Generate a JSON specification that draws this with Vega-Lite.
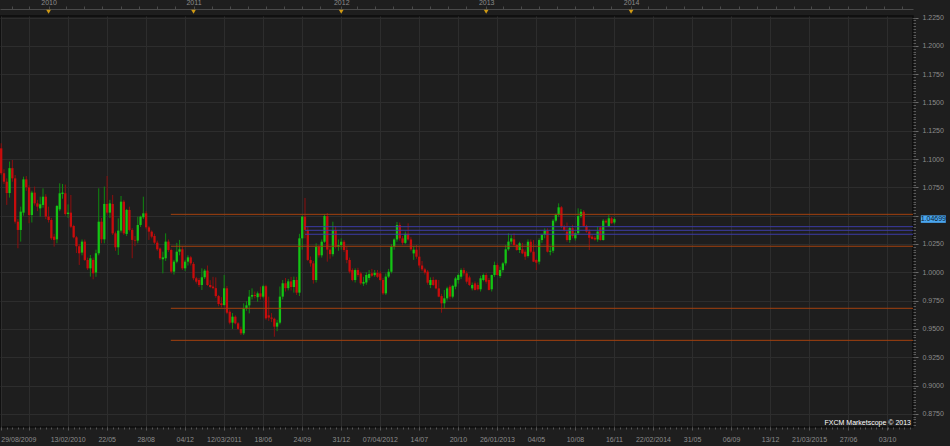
{
"$schema":"https://vega.github.io/schema/vega-lite/v6.json",
"width":913,"height":411,
"autosize":{"type":"none"},
"padding":{"left":0,"top":16,"right":37,"bottom":19},
"background":"#1e1e1e",
"config":{"view":{"stroke":"#0d0d0d","strokeWidth":1.5},"font":"Liberation Sans","axis":{"labelFont":"Liberation Sans","labelFontSize":7,"labelColor":"#8c8c8c"}},
"datasets":{
"ohlc":[
{"d":"2009-08-30","o":1.1095,"h":1.1140,"l":1.0860,"c":1.0875},
{"d":"2009-09-06","o":1.0875,"h":1.0910,"l":1.0780,"c":1.0800},
{"d":"2009-09-13","o":1.0800,"h":1.0830,"l":1.0595,"c":1.0700},
{"d":"2009-09-20","o":1.0700,"h":1.0978,"l":1.0660,"c":1.0920},
{"d":"2009-09-27","o":1.0920,"h":1.0992,"l":1.0800,"c":1.0830},
{"d":"2009-10-04","o":1.0830,"h":1.0860,"l":1.0430,"c":1.0447},
{"d":"2009-10-11","o":1.0447,"h":1.0470,"l":1.0212,"c":1.0374},
{"d":"2009-10-18","o":1.0374,"h":1.0580,"l":1.0271,"c":1.0536},
{"d":"2009-10-25","o":1.0527,"h":1.0845,"l":1.0500,"c":1.0821},
{"d":"2009-11-01","o":1.0821,"h":1.0850,"l":1.0720,"c":1.0751},
{"d":"2009-11-08","o":1.0751,"h":1.0770,"l":1.0433,"c":1.0506},
{"d":"2009-11-15","o":1.0506,"h":1.0720,"l":1.0440,"c":1.0704},
{"d":"2009-11-22","o":1.0704,"h":1.0757,"l":1.0590,"c":1.0609},
{"d":"2009-11-29","o":1.0609,"h":1.0640,"l":1.0540,"c":1.0580},
{"d":"2009-12-06","o":1.0565,"h":1.0668,"l":1.0492,"c":1.0601},
{"d":"2009-12-13","o":1.0595,"h":1.0742,"l":1.0570,"c":1.0668},
{"d":"2009-12-20","o":1.0668,"h":1.0690,"l":1.0470,"c":1.0492},
{"d":"2009-12-27","o":1.0492,"h":1.0580,"l":1.0440,"c":1.0462},
{"d":"2010-01-03","o":1.0462,"h":1.0480,"l":1.0285,"c":1.0300},
{"d":"2010-01-10","o":1.0315,"h":1.0340,"l":1.0227,"c":1.0286},
{"d":"2010-01-17","o":1.0291,"h":1.0595,"l":1.0256,"c":1.0586},
{"d":"2010-01-24","o":1.0556,"h":1.0786,"l":1.0540,"c":1.0698},
{"d":"2010-01-31","o":1.0692,"h":1.0780,"l":1.0650,"c":1.0704},
{"d":"2010-02-07","o":1.0698,"h":1.0775,"l":1.0500,"c":1.0515},
{"d":"2010-02-14","o":1.0515,"h":1.0600,"l":1.0480,"c":1.0527},
{"d":"2010-02-21","o":1.0527,"h":1.0683,"l":1.0390,"c":1.0403},
{"d":"2010-02-28","o":1.0409,"h":1.0420,"l":1.0300,"c":1.0309},
{"d":"2010-03-07","o":1.0309,"h":1.0320,"l":1.0170,"c":1.0230},
{"d":"2010-03-14","o":1.0230,"h":1.0250,"l":1.0065,"c":1.0168},
{"d":"2010-03-21","o":1.0174,"h":1.0290,"l":1.0150,"c":1.0271},
{"d":"2010-03-28","o":1.0271,"h":1.0290,"l":1.0100,"c":1.0109},
{"d":"2010-04-04","o":1.0109,"h":1.0130,"l":1.0020,"c":1.0035},
{"d":"2010-04-11","o":1.0035,"h":1.0153,"l":0.9962,"c":1.0124},
{"d":"2010-04-18","o":1.0110,"h":1.0130,"l":0.9938,"c":0.9991},
{"d":"2010-04-25","o":0.9998,"h":1.0200,"l":0.9960,"c":1.0168},
{"d":"2010-05-02","o":1.0168,"h":1.0742,"l":1.0150,"c":1.0447},
{"d":"2010-05-09","o":1.0447,"h":1.0480,"l":1.0256,"c":1.0291},
{"d":"2010-05-16","o":1.0291,"h":1.0757,"l":1.0256,"c":1.0604},
{"d":"2010-05-23","o":1.0604,"h":1.0851,"l":1.0510,"c":1.0527},
{"d":"2010-05-30","o":1.0527,"h":1.0640,"l":1.0480,"c":1.0609},
{"d":"2010-06-06","o":1.0604,"h":1.0683,"l":1.0330,"c":1.0344},
{"d":"2010-06-13","o":1.0344,"h":1.0360,"l":1.0190,"c":1.0221},
{"d":"2010-06-20","o":1.0221,"h":1.0477,"l":1.0153,"c":1.0368},
{"d":"2010-06-27","o":1.0368,"h":1.0674,"l":1.0350,"c":1.0624},
{"d":"2010-07-04","o":1.0624,"h":1.0640,"l":1.0330,"c":1.0344},
{"d":"2010-07-11","o":1.0339,"h":1.0560,"l":1.0320,"c":1.0551},
{"d":"2010-07-18","o":1.0551,"h":1.0580,"l":1.0360,"c":1.0374},
{"d":"2010-07-25","o":1.0374,"h":1.0390,"l":1.0124,"c":1.0286},
{"d":"2010-08-01","o":1.0286,"h":1.0320,"l":1.0230,"c":1.0280},
{"d":"2010-08-08","o":1.0280,"h":1.0492,"l":1.0256,"c":1.0418},
{"d":"2010-08-15","o":1.0418,"h":1.0500,"l":1.0400,"c":1.0492},
{"d":"2010-08-22","o":1.0486,"h":1.0668,"l":1.0470,"c":1.0521},
{"d":"2010-08-29","o":1.0521,"h":1.0540,"l":1.0380,"c":1.0397},
{"d":"2010-09-05","o":1.0397,"h":1.0410,"l":1.0286,"c":1.0359},
{"d":"2010-09-12","o":1.0359,"h":1.0370,"l":1.0300,"c":1.0315},
{"d":"2010-09-19","o":1.0321,"h":1.0340,"l":1.0250,"c":1.0262},
{"d":"2010-09-26","o":1.0262,"h":1.0280,"l":1.0190,"c":1.0203},
{"d":"2010-10-03","o":1.0210,"h":1.0220,"l":1.0110,"c":1.0124},
{"d":"2010-10-10","o":1.0115,"h":1.0182,"l":0.9991,"c":1.0132},
{"d":"2010-10-17","o":1.0124,"h":1.0344,"l":1.0100,"c":1.0271},
{"d":"2010-10-24","o":1.0271,"h":1.0290,"l":1.0180,"c":1.0197},
{"d":"2010-10-31","o":1.0197,"h":1.0210,"l":0.9990,"c":1.0006},
{"d":"2010-11-07","o":1.0006,"h":1.0110,"l":0.9980,"c":1.0094},
{"d":"2010-11-14","o":1.0094,"h":1.0260,"l":1.0080,"c":1.0182},
{"d":"2010-11-21","o":1.0182,"h":1.0286,"l":1.0150,"c":1.0203},
{"d":"2010-11-28","o":1.0203,"h":1.0230,"l":1.0020,"c":1.0035},
{"d":"2010-12-05","o":1.0035,"h":1.0110,"l":1.0010,"c":1.0094},
{"d":"2010-12-12","o":1.0094,"h":1.0150,"l":1.0060,"c":1.0132},
{"d":"2010-12-19","o":1.0132,"h":1.0145,"l":1.0060,"c":1.0079},
{"d":"2010-12-26","o":1.0074,"h":1.0090,"l":0.9930,"c":0.9947},
{"d":"2011-01-02","o":0.9947,"h":0.9960,"l":0.9900,"c":0.9917},
{"d":"2011-01-09","o":0.9932,"h":0.9950,"l":0.9870,"c":0.9888},
{"d":"2011-01-16","o":0.9888,"h":1.0035,"l":0.9844,"c":0.9956},
{"d":"2011-01-23","o":0.9956,"h":1.0030,"l":0.9940,"c":1.0015},
{"d":"2011-01-30","o":1.0015,"h":1.0060,"l":0.9880,"c":0.9888},
{"d":"2011-02-06","o":0.9888,"h":0.9930,"l":0.9860,"c":0.9870},
{"d":"2011-02-13","o":0.9874,"h":0.9960,"l":0.9850,"c":0.9860},
{"d":"2011-02-20","o":0.9860,"h":0.9955,"l":0.9775,"c":0.9790},
{"d":"2011-02-27","o":0.9790,"h":0.9800,"l":0.9700,"c":0.9720},
{"d":"2011-03-06","o":0.9726,"h":0.9780,"l":0.9690,"c":0.9711},
{"d":"2011-03-13","o":0.9711,"h":0.9976,"l":0.9700,"c":0.9859},
{"d":"2011-03-20","o":0.9859,"h":0.9880,"l":0.9630,"c":0.9643},
{"d":"2011-03-27","o":0.9652,"h":0.9670,"l":0.9540,"c":0.9555},
{"d":"2011-04-03","o":0.9555,"h":0.9640,"l":0.9500,"c":0.9608},
{"d":"2011-04-10","o":0.9608,"h":0.9620,"l":0.9540,"c":0.9549},
{"d":"2011-04-17","o":0.9549,"h":0.9560,"l":0.9490,"c":0.9500},
{"d":"2011-04-24","o":0.9500,"h":0.9520,"l":0.9446,"c":0.9461},
{"d":"2011-05-01","o":0.9461,"h":0.9726,"l":0.9446,"c":0.9682},
{"d":"2011-05-08","o":0.9682,"h":0.9745,"l":0.9660,"c":0.9708},
{"d":"2011-05-15","o":0.9708,"h":0.9844,"l":0.9637,"c":0.9785},
{"d":"2011-05-22","o":0.9785,"h":0.9858,"l":0.9760,"c":0.9800},
{"d":"2011-05-29","o":0.9800,"h":0.9830,"l":0.9770,"c":0.9790},
{"d":"2011-06-05","o":0.9780,"h":0.9830,"l":0.9740,"c":0.9814},
{"d":"2011-06-12","o":0.9814,"h":0.9874,"l":0.9760,"c":0.9785},
{"d":"2011-06-19","o":0.9785,"h":0.9890,"l":0.9770,"c":0.9877},
{"d":"2011-06-26","o":0.9877,"h":0.9890,"l":0.9580,"c":0.9593},
{"d":"2011-07-03","o":0.9620,"h":0.9785,"l":0.9570,"c":0.9600},
{"d":"2011-07-10","o":0.9600,"h":0.9640,"l":0.9560,"c":0.9590},
{"d":"2011-07-17","o":0.9590,"h":0.9600,"l":0.9431,"c":0.9520},
{"d":"2011-07-24","o":0.9520,"h":0.9580,"l":0.9480,"c":0.9555},
{"d":"2011-07-31","o":0.9555,"h":0.9874,"l":0.9540,"c":0.9785},
{"d":"2011-08-07","o":0.9785,"h":0.9932,"l":0.9760,"c":0.9903},
{"d":"2011-08-14","o":0.9903,"h":0.9950,"l":0.9830,"c":0.9860},
{"d":"2011-08-21","o":0.9860,"h":0.9940,"l":0.9840,"c":0.9920},
{"d":"2011-08-28","o":0.9920,"h":0.9960,"l":0.9840,"c":0.9870},
{"d":"2011-09-04","o":0.9870,"h":0.9962,"l":0.9820,"c":0.9932},
{"d":"2011-09-11","o":0.9932,"h":0.9960,"l":0.9800,"c":0.9820},
{"d":"2011-09-18","o":0.9820,"h":1.0340,"l":0.9790,"c":1.0300},
{"d":"2011-09-25","o":1.0300,"h":1.0500,"l":1.0200,"c":1.0492},
{"d":"2011-10-02","o":1.0492,"h":1.0657,"l":1.0300,"c":1.0374},
{"d":"2011-10-09","o":1.0374,"h":1.0400,"l":1.0100,"c":1.0109},
{"d":"2011-10-16","o":1.0109,"h":1.0140,"l":1.0050,"c":1.0079},
{"d":"2011-10-23","o":1.0079,"h":1.0100,"l":0.9900,"c":0.9932},
{"d":"2011-10-30","o":0.9932,"h":1.0256,"l":0.9910,"c":1.0226},
{"d":"2011-11-06","o":1.0226,"h":1.0240,"l":1.0130,"c":1.0150},
{"d":"2011-11-13","o":1.0150,"h":1.0290,"l":1.0130,"c":1.0270},
{"d":"2011-11-20","o":1.0270,"h":1.0510,"l":1.0260,"c":1.0497},
{"d":"2011-11-27","o":1.0497,"h":1.0524,"l":1.0094,"c":1.0200},
{"d":"2011-12-04","o":1.0200,"h":1.0230,"l":1.0120,"c":1.0160},
{"d":"2011-12-11","o":1.0160,"h":1.0447,"l":1.0140,"c":1.0374},
{"d":"2011-12-18","o":1.0374,"h":1.0410,"l":1.0210,"c":1.0226},
{"d":"2011-12-25","o":1.0226,"h":1.0290,"l":1.0190,"c":1.0240},
{"d":"2012-01-01","o":1.0240,"h":1.0300,"l":1.0200,"c":1.0270},
{"d":"2012-01-08","o":1.0270,"h":1.0285,"l":1.0180,"c":1.0197},
{"d":"2012-01-15","o":1.0197,"h":1.0226,"l":1.0080,"c":1.0109},
{"d":"2012-01-22","o":1.0109,"h":1.0130,"l":0.9990,"c":1.0006},
{"d":"2012-01-29","o":1.0020,"h":1.0035,"l":0.9920,"c":0.9932},
{"d":"2012-02-05","o":0.9932,"h":1.0035,"l":0.9910,"c":1.0020},
{"d":"2012-02-12","o":1.0020,"h":1.0040,"l":0.9960,"c":0.9976},
{"d":"2012-02-19","o":0.9990,"h":1.0005,"l":0.9890,"c":0.9903},
{"d":"2012-02-26","o":0.9900,"h":0.9960,"l":0.9880,"c":0.9915},
{"d":"2012-03-04","o":0.9910,"h":1.0000,"l":0.9890,"c":0.9976},
{"d":"2012-03-11","o":0.9950,"h":1.0020,"l":0.9930,"c":0.9985},
{"d":"2012-03-18","o":0.9991,"h":1.0030,"l":0.9960,"c":0.9970},
{"d":"2012-03-25","o":0.9975,"h":1.0020,"l":0.9960,"c":0.9995},
{"d":"2012-04-01","o":0.9995,"h":1.0020,"l":0.9950,"c":0.9960},
{"d":"2012-04-08","o":0.9990,"h":1.0010,"l":0.9920,"c":0.9932},
{"d":"2012-04-15","o":0.9932,"h":0.9950,"l":0.9800,"c":0.9814},
{"d":"2012-04-22","o":0.9814,"h":0.9990,"l":0.9800,"c":0.9962},
{"d":"2012-04-29","o":0.9962,"h":1.0030,"l":0.9950,"c":1.0005},
{"d":"2012-05-06","o":1.0005,"h":1.0250,"l":0.9990,"c":1.0226},
{"d":"2012-05-13","o":1.0226,"h":1.0300,"l":1.0200,"c":1.0290},
{"d":"2012-05-20","o":1.0290,"h":1.0445,"l":1.0270,"c":1.0418},
{"d":"2012-05-27","o":1.0418,"h":1.0440,"l":1.0280,"c":1.0300},
{"d":"2012-06-03","o":1.0300,"h":1.0320,"l":1.0240,"c":1.0260},
{"d":"2012-06-10","o":1.0260,"h":1.0360,"l":1.0250,"c":1.0340},
{"d":"2012-06-17","o":1.0340,"h":1.0433,"l":1.0280,"c":1.0290},
{"d":"2012-06-24","o":1.0290,"h":1.0310,"l":1.0190,"c":1.0203},
{"d":"2012-07-01","o":1.0167,"h":1.0230,"l":1.0110,"c":1.0200},
{"d":"2012-07-08","o":1.0200,"h":1.0240,"l":1.0120,"c":1.0138},
{"d":"2012-07-15","o":1.0138,"h":1.0226,"l":1.0040,"c":1.0060},
{"d":"2012-07-22","o":1.0060,"h":1.0100,"l":1.0010,"c":1.0026},
{"d":"2012-07-29","o":1.0026,"h":1.0040,"l":0.9980,"c":0.9997},
{"d":"2012-08-05","o":1.0006,"h":1.0020,"l":0.9890,"c":0.9908},
{"d":"2012-08-12","o":0.9888,"h":0.9955,"l":0.9860,"c":0.9932},
{"d":"2012-08-19","o":0.9932,"h":0.9960,"l":0.9880,"c":0.9888},
{"d":"2012-08-26","o":0.9932,"h":0.9940,"l":0.9850,"c":0.9858},
{"d":"2012-09-02","o":0.9858,"h":0.9932,"l":0.9780,"c":0.9785},
{"d":"2012-09-09","o":0.9790,"h":0.9810,"l":0.9643,"c":0.9726},
{"d":"2012-09-16","o":0.9726,"h":0.9844,"l":0.9680,"c":0.9770},
{"d":"2012-09-23","o":0.9770,"h":0.9873,"l":0.9750,"c":0.9858},
{"d":"2012-09-30","o":0.9873,"h":0.9890,"l":0.9760,"c":0.9785},
{"d":"2012-10-07","o":0.9785,"h":0.9890,"l":0.9770,"c":0.9880},
{"d":"2012-10-14","o":0.9873,"h":0.9960,"l":0.9850,"c":0.9946},
{"d":"2012-10-21","o":0.9932,"h":0.9990,"l":0.9900,"c":0.9976},
{"d":"2012-10-28","o":0.9961,"h":1.0035,"l":0.9940,"c":1.0020},
{"d":"2012-11-04","o":1.0020,"h":1.0040,"l":0.9970,"c":0.9991},
{"d":"2012-11-11","o":0.9991,"h":1.0010,"l":0.9900,"c":0.9917},
{"d":"2012-11-18","o":0.9955,"h":0.9970,"l":0.9880,"c":0.9888},
{"d":"2012-11-25","o":0.9858,"h":0.9910,"l":0.9840,"c":0.9888},
{"d":"2012-12-02","o":0.9902,"h":0.9920,"l":0.9840,"c":0.9844},
{"d":"2012-12-09","o":0.9888,"h":0.9910,"l":0.9840,"c":0.9850},
{"d":"2012-12-16","o":0.9850,"h":0.9970,"l":0.9830,"c":0.9947},
{"d":"2012-12-23","o":0.9932,"h":0.9990,"l":0.9920,"c":0.9976},
{"d":"2012-12-30","o":0.9976,"h":0.9995,"l":0.9900,"c":0.9917},
{"d":"2013-01-06","o":0.9932,"h":0.9950,"l":0.9840,"c":0.9844},
{"d":"2013-01-13","o":0.9850,"h":0.9980,"l":0.9830,"c":0.9976},
{"d":"2013-01-20","o":0.9976,"h":1.0094,"l":0.9960,"c":1.0064},
{"d":"2013-01-27","o":1.0064,"h":1.0080,"l":0.9970,"c":0.9976},
{"d":"2013-02-03","o":0.9967,"h":1.0050,"l":0.9950,"c":1.0020},
{"d":"2013-02-10","o":1.0020,"h":1.0090,"l":1.0000,"c":1.0079},
{"d":"2013-02-17","o":1.0079,"h":1.0240,"l":1.0060,"c":1.0203},
{"d":"2013-02-24","o":1.0203,"h":1.0344,"l":1.0190,"c":1.0271},
{"d":"2013-03-03","o":1.0271,"h":1.0330,"l":1.0250,"c":1.0300},
{"d":"2013-03-10","o":1.0291,"h":1.0344,"l":1.0230,"c":1.0241},
{"d":"2013-03-17","o":1.0241,"h":1.0250,"l":1.0190,"c":1.0197},
{"d":"2013-03-24","o":1.0197,"h":1.0270,"l":1.0170,"c":1.0256},
{"d":"2013-03-31","o":1.0203,"h":1.0260,"l":1.0160,"c":1.0167},
{"d":"2013-04-07","o":1.0182,"h":1.0200,"l":1.0110,"c":1.0138},
{"d":"2013-04-14","o":1.0144,"h":1.0291,"l":1.0130,"c":1.0270},
{"d":"2013-04-21","o":1.0270,"h":1.0290,"l":1.0170,"c":1.0182},
{"d":"2013-04-28","o":1.0182,"h":1.0285,"l":1.0090,"c":1.0094},
{"d":"2013-05-05","o":1.0109,"h":1.0120,"l":1.0020,"c":1.0085},
{"d":"2013-05-12","o":1.0094,"h":1.0300,"l":1.0070,"c":1.0285},
{"d":"2013-05-19","o":1.0285,"h":1.0340,"l":1.0260,"c":1.0330},
{"d":"2013-05-26","o":1.0330,"h":1.0388,"l":1.0300,"c":1.0368},
{"d":"2013-06-02","o":1.0368,"h":1.0388,"l":1.0175,"c":1.0182},
{"d":"2013-06-09","o":1.0182,"h":1.0230,"l":1.0150,"c":1.0190},
{"d":"2013-06-16","o":1.0190,"h":1.0470,"l":1.0170,"c":1.0456},
{"d":"2013-06-23","o":1.0456,"h":1.0520,"l":1.0440,"c":1.0506},
{"d":"2013-06-30","o":1.0506,"h":1.0609,"l":1.0490,"c":1.0574},
{"d":"2013-07-07","o":1.0574,"h":1.0585,"l":1.0390,"c":1.0403},
{"d":"2013-07-14","o":1.0403,"h":1.0420,"l":1.0360,"c":1.0374},
{"d":"2013-07-21","o":1.0360,"h":1.0440,"l":1.0270,"c":1.0285},
{"d":"2013-07-28","o":1.0285,"h":1.0400,"l":1.0260,"c":1.0390},
{"d":"2013-08-04","o":1.0390,"h":1.0420,"l":1.0300,"c":1.0320},
{"d":"2013-08-11","o":1.0300,"h":1.0360,"l":1.0280,"c":1.0345},
{"d":"2013-08-18","o":1.0345,"h":1.0565,"l":1.0330,"c":1.0497},
{"d":"2013-08-25","o":1.0497,"h":1.0560,"l":1.0480,"c":1.0535},
{"d":"2013-09-01","o":1.0535,"h":1.0550,"l":1.0400,"c":1.0410},
{"d":"2013-09-08","o":1.0410,"h":1.0420,"l":1.0350,"c":1.0360},
{"d":"2013-09-15","o":1.0360,"h":1.0380,"l":1.0197,"c":1.0305},
{"d":"2013-09-22","o":1.0315,"h":1.0330,"l":1.0290,"c":1.0295},
{"d":"2013-09-29","o":1.0305,"h":1.0320,"l":1.0280,"c":1.0290},
{"d":"2013-10-06","o":1.0290,"h":1.0403,"l":1.0270,"c":1.0360},
{"d":"2013-10-13","o":1.0397,"h":1.0410,"l":1.0280,"c":1.0285},
{"d":"2013-10-20","o":1.0285,"h":1.0470,"l":1.0280,"c":1.0456},
{"d":"2013-10-27","o":1.0456,"h":1.0470,"l":1.0430,"c":1.0440},
{"d":"2013-11-03","o":1.0409,"h":1.0505,"l":1.0400,"c":1.0477},
{"d":"2013-11-10","o":1.0477,"h":1.0490,"l":1.0430,"c":1.0433},
{"d":"2013-11-17","o":1.0440,"h":1.0485,"l":1.0425,"c":1.04699}
],
"levels":[
{"v":1.0512,"s":"2010-10-30","e":"2015-12-07","k":"r"},
{"v":1.0230,"s":"2010-10-30","e":"2015-12-07","k":"r"},
{"v":0.9682,"s":"2010-10-30","e":"2015-12-07","k":"r"},
{"v":0.9399,"s":"2010-10-30","e":"2015-12-07","k":"r"},
{"v":1.0403,"s":"2011-10-02","e":"2015-12-07","k":"b"},
{"v":1.0371,"s":"2011-10-02","e":"2015-12-07","k":"b"},
{"v":1.0336,"s":"2011-10-02","e":"2015-12-07","k":"b"}
],
"years":[{"d":"2009-12-27"},{"d":"2010-12-26"},{"d":"2012-01-01"},{"d":"2012-12-30"},{"d":"2013-12-29"}],
"price":[{"p":1.04699,"t":"1.04699"}],
"brand":[{"t":"FXCM Marketscope © 2013"}]
},
"layer":[
{"data":{"name":"ohlc"},"mark":{"type":"rule","strokeWidth":1},
"encoding":{
"x":{"field":"d","type":"temporal","title":null,
"scale":{"type":"utc","domain":[{"year":2009,"month":8,"date":27,"utc":true},{"year":2015,"month":12,"date":7,"utc":true}]},
"axis":{"orient":"bottom","values":[
{"year":2009,"month":8,"date":29,"utc":true},{"year":2009,"month":11,"date":7,"utc":true},
{"year":2010,"month":2,"date":13,"utc":true},{"year":2010,"month":5,"date":22,"utc":true},{"year":2010,"month":8,"date":28,"utc":true},{"year":2010,"month":12,"date":4,"utc":true},
{"year":2011,"month":3,"date":12,"utc":true},{"year":2011,"month":6,"date":18,"utc":true},{"year":2011,"month":9,"date":24,"utc":true},{"year":2011,"month":12,"date":31,"utc":true},
{"year":2012,"month":4,"date":7,"utc":true},{"year":2012,"month":7,"date":14,"utc":true},{"year":2012,"month":10,"date":20,"utc":true},
{"year":2013,"month":1,"date":26,"utc":true},{"year":2013,"month":5,"date":4,"utc":true},{"year":2013,"month":8,"date":10,"utc":true},{"year":2013,"month":11,"date":16,"utc":true},
{"year":2014,"month":2,"date":22,"utc":true},{"year":2014,"month":5,"date":31,"utc":true},{"year":2014,"month":9,"date":6,"utc":true},{"year":2014,"month":12,"date":13,"utc":true},
{"year":2015,"month":3,"date":21,"utc":true},{"year":2015,"month":6,"date":27,"utc":true},{"year":2015,"month":10,"date":3,"utc":true}],
"labelExpr":"(time(datum.value) > utc(2009,9,1) && time(datum.value) < utc(2009,11,1)) ? '' : ((time(datum.value) < utc(2009,9,1) || time(datum.value) - utc(utcyear(datum.value),0,1) < 8467200000) ? utcFormat(datum.value, '%d/%m/%Y') : utcFormat(datum.value, '%d/%m'))",
"labelFlush":3,"labelOverlap":false,"labelPadding":5,"grid":true,"gridColor":"#2d2d2d","gridWidth":1,"domain":false,"ticks":true,"tickSize":3,"tickColor":"#5c5c5c","labelColor":"#8c8c8c","labelFontSize":7}},
"y":{"field":"l","type":"quantitative","title":null,
"scale":{"domain":[0.86334,1.22641],"zero":false,"nice":false},
"axis":{"orient":"right","values":[0.875,0.9,0.925,0.95,0.975,1,1.025,1.05,1.075,1.1,1.125,1.15,1.175,1.2,1.225],"labelExpr":"abs(datum.value - 1.05) < 0.001 ? '' : format(datum.value, '.4f')","grid":true,"gridColor":"#2d2d2d","domain":false,"tickSize":5,"tickColor":"#6a6a6a","labelPadding":4,"labelColor":"#8c8c8c","labelFontSize":7}},
"y2":{"field":"h"},
"color":{"condition":{"test":"datum.c >= datum.o","value":"#0f8a0f"},"value":"#8e0f0f"}}},
{"data":{"name":"ohlc"},"mark":{"type":"rule","strokeWidth":2.3},
"encoding":{
"x":{"field":"d","type":"temporal","title":null,"axis":{"orient":"bottom","tickCount":{"interval":"week","step":2},"labels":false,"grid":false,"domain":false,"tickSize":2,"tickColor":"#555555"}},
"y":{"field":"o","type":"quantitative","title":null,"axis":{"orient":"right","values":[0.865,0.8675,0.87,0.8725,0.875,0.8775,0.88,0.8825,0.885,0.8875,0.89,0.8925,0.895,0.8975,0.9,0.9025,0.905,0.9075,0.91,0.9125,0.915,0.9175,0.92,0.9225,0.925,0.9275,0.93,0.9325,0.935,0.9375,0.94,0.9425,0.945,0.9475,0.95,0.9525,0.955,0.9575,0.96,0.9625,0.965,0.9675,0.97,0.9725,0.975,0.9775,0.98,0.9825,0.985,0.9875,0.99,0.9925,0.995,0.9975,1,1.0025,1.005,1.0075,1.01,1.0125,1.015,1.0175,1.02,1.0225,1.025,1.0275,1.03,1.0325,1.035,1.0375,1.04,1.0425,1.045,1.0475,1.05,1.0525,1.055,1.0575,1.06,1.0625,1.065,1.0675,1.07,1.0725,1.075,1.0775,1.08,1.0825,1.085,1.0875,1.09,1.0925,1.095,1.0975,1.1,1.1025,1.105,1.1075,1.11,1.1125,1.115,1.1175,1.12,1.1225,1.125,1.1275,1.13,1.1325,1.135,1.1375,1.14,1.1425,1.145,1.1475,1.15,1.1525,1.155,1.1575,1.16,1.1625,1.165,1.1675,1.17,1.1725,1.175,1.1775,1.18,1.1825,1.185,1.1875,1.19,1.1925,1.195,1.1975,1.2,1.2025,1.205,1.2075,1.21,1.2125,1.215,1.2175,1.22,1.2225,1.225],"labels":false,"grid":false,"domain":false,"tickSize":2.5,"tickColor":"#5a5a5a"}},
"y2":{"field":"c"},
"color":{"condition":{"test":"datum.c >= datum.o","value":"#14c414"},"value":"#c80c0c"}}},
{"data":{"name":"levels"},"mark":{"type":"rule","strokeWidth":1},
"encoding":{
"x":{"field":"s","type":"temporal","axis":null},"x2":{"field":"e"},
"y":{"field":"v","type":"quantitative","axis":null},
"color":{"field":"k","type":"nominal","scale":{"domain":["r","b"],"range":["#a3400e","#3c3ca6"]},"legend":null}}},
{"data":{"name":"years"},"mark":{"type":"point","shape":"triangle-down","filled":true,"size":22,"color":"#d09a14","opacity":1,"clip":false},
"encoding":{
"x":{"field":"d","type":"temporal","title":null,"axis":{"orient":"top","offset":7,"values":[
{"year":2009,"month":9,"date":25,"utc":true},{"year":2009,"month":11,"date":9,"utc":true},{"year":2009,"month":12,"date":27,"utc":true},
{"year":2010,"month":2,"date":10,"utc":true},{"year":2010,"month":3,"date":27,"utc":true},{"year":2010,"month":5,"date":11,"utc":true},{"year":2010,"month":6,"date":26,"utc":true},{"year":2010,"month":8,"date":10,"utc":true},{"year":2010,"month":9,"date":25,"utc":true},{"year":2010,"month":11,"date":9,"utc":true},{"year":2010,"month":12,"date":26,"utc":true},
{"year":2011,"month":2,"date":10,"utc":true},{"year":2011,"month":3,"date":27,"utc":true},{"year":2011,"month":5,"date":11,"utc":true},{"year":2011,"month":6,"date":26,"utc":true},{"year":2011,"month":8,"date":10,"utc":true},{"year":2011,"month":9,"date":25,"utc":true},{"year":2011,"month":11,"date":9,"utc":true},{"year":2012,"month":1,"date":1,"utc":true},
{"year":2012,"month":2,"date":10,"utc":true},{"year":2012,"month":3,"date":27,"utc":true},{"year":2012,"month":5,"date":11,"utc":true},{"year":2012,"month":6,"date":26,"utc":true},{"year":2012,"month":8,"date":10,"utc":true},{"year":2012,"month":9,"date":25,"utc":true},{"year":2012,"month":11,"date":9,"utc":true},{"year":2012,"month":12,"date":30,"utc":true},
{"year":2013,"month":2,"date":10,"utc":true},{"year":2013,"month":3,"date":27,"utc":true},{"year":2013,"month":5,"date":11,"utc":true},{"year":2013,"month":6,"date":26,"utc":true},{"year":2013,"month":8,"date":10,"utc":true},{"year":2013,"month":9,"date":25,"utc":true},{"year":2013,"month":11,"date":9,"utc":true},{"year":2013,"month":12,"date":29,"utc":true},
{"year":2014,"month":2,"date":10,"utc":true},{"year":2014,"month":3,"date":27,"utc":true},{"year":2014,"month":5,"date":11,"utc":true},{"year":2014,"month":6,"date":26,"utc":true},{"year":2014,"month":8,"date":10,"utc":true},{"year":2014,"month":9,"date":25,"utc":true},{"year":2014,"month":11,"date":9,"utc":true},{"year":2014,"month":12,"date":28,"utc":true},
{"year":2015,"month":2,"date":10,"utc":true},{"year":2015,"month":3,"date":27,"utc":true},{"year":2015,"month":5,"date":11,"utc":true},{"year":2015,"month":6,"date":26,"utc":true},{"year":2015,"month":8,"date":10,"utc":true},{"year":2015,"month":9,"date":25,"utc":true},{"year":2015,"month":11,"date":9,"utc":true}],
"labelExpr":"(((utcmonth(datum.value) == 11 && utcdate(datum.value) > 20) || (utcmonth(datum.value) == 0 && utcdate(datum.value) < 5)) && time(datum.value) < utc(2014,6,1)) ? utcFormat(time(datum.value) + 604800000, '%Y') : ''",
"labelOverlap":false,"labelPadding":1,"grid":false,"domain":true,"domainColor":"#4a4a4a","tickSize":3,"tickColor":"#4a4a4a","labelColor":"#8c8c8c","labelFontSize":7}},
"y":{"datum":1.23021,"type":"quantitative","axis":null}}},
{"data":{"name":"price"},"mark":{"type":"rect","width":25,"height":7.5,"color":"#4aa6f0","clip":false},
"encoding":{
"x":{"datum":{"year":2016,"month":1,"date":27,"utc":true},"type":"temporal","axis":null},
"y":{"field":"p","type":"quantitative","axis":null}}},
{"data":{"name":"price"},"mark":{"type":"text","fontSize":7,"color":"#0b1a2a","align":"center","baseline":"middle","clip":false},
"encoding":{
"x":{"datum":{"year":2016,"month":1,"date":27,"utc":true},"type":"temporal","axis":null},
"y":{"field":"p","type":"quantitative","axis":null},
"text":{"field":"t"}}},
{"data":{"name":"brand"},"mark":{"type":"text","fontSize":7,"color":"#ffffff","align":"right","baseline":"middle","clip":false},
"encoding":{
"x":{"datum":{"year":2015,"month":12,"date":2,"utc":true},"type":"temporal","axis":null},
"y":{"datum":0.86661,"type":"quantitative","axis":null},
"text":{"field":"t"}}}
],
"resolve":{"axis":{"x":"independent","y":"independent"}}
}
